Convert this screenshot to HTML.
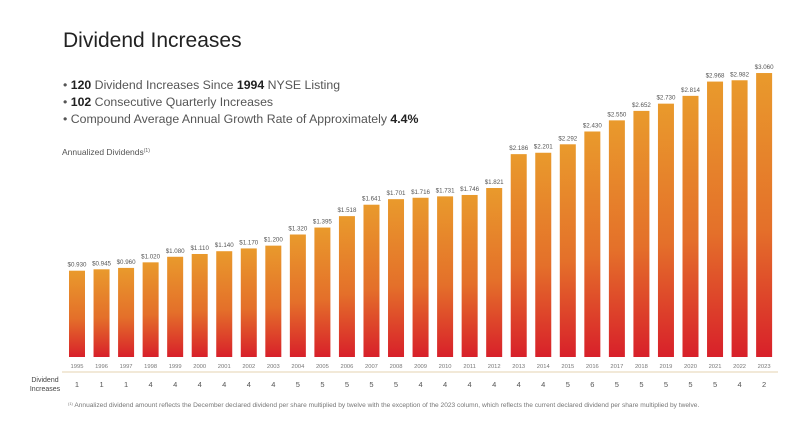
<!DOCTYPE html>
<html><head><meta charset="utf-8"><style>
body{margin:0;background:#fff;width:800px;height:423px;overflow:hidden;font-family:"Liberation Sans",sans-serif}
svg{display:block}
</style></head><body>
<svg width="800" height="423" xmlns="http://www.w3.org/2000/svg">
<defs><linearGradient id="g" x1="0" y1="0" x2="0" y2="1"><stop offset="0" stop-color="#e99a2c"/><stop offset="0.55" stop-color="#e4702a"/><stop offset="1" stop-color="#d8202a"/></linearGradient></defs>
<text x="63" y="47" font-size="21" fill="#222">Dividend Increases</text>
<g font-size="12.3" fill="#555">
<text x="63" y="89">• <tspan font-weight="bold" fill="#222">120</tspan> Dividend Increases Since <tspan font-weight="bold" fill="#222">1994</tspan> NYSE Listing</text>
<text x="63" y="106">• <tspan font-weight="bold" fill="#222">102</tspan> Consecutive Quarterly Increases</text>
<text x="63" y="123">• Compound Average Annual Growth Rate of Approximately <tspan font-weight="bold" fill="#222">4.4%</tspan></text>
</g>
<text x="62" y="155" font-size="8.5" fill="#555">Annualized Dividends<tspan font-size="5" dy="-3">(1)</tspan></text>
<g id="bars"></g>
<line x1="62" x2="778" y1="372" y2="372" stroke="#e6d3b0" stroke-width="1"/>
<text x="45" y="382" font-size="7" fill="#444" text-anchor="middle"><tspan x="45">Dividend</tspan><tspan x="45" dy="9">Increases</tspan></text>
<text x="68" y="407" font-size="6.6" fill="#777"><tspan font-size="4" dy="-2">(1)</tspan><tspan dy="2"> Annualized dividend amount reflects the December declared dividend per share multiplied by twelve with the exception of the 2023 column, which reflects the current declared dividend per share multiplied by twelve.</tspan></text>
</svg>
<script>
const years=[1995,1996,1997,1998,1999,2000,2001,2002,2003,2004,2005,2006,2007,2008,2009,2010,2011,2012,2013,2014,2015,2016,2017,2018,2019,2020,2021,2022,2023];
const values=[0.930,0.945,0.960,1.020,1.080,1.110,1.140,1.170,1.200,1.320,1.395,1.518,1.641,1.701,1.716,1.731,1.746,1.821,2.186,2.201,2.292,2.430,2.550,2.652,2.730,2.814,2.968,2.982,3.060];
const increases=[1,1,1,4,4,4,4,4,4,5,5,5,5,5,4,4,4,4,4,4,5,6,5,5,5,5,5,4,2];
const NS="http://www.w3.org/2000/svg";
const g=document.getElementById('bars');
const x0=69,pitch=24.54,bw=16,base=357,scale=92.8;
const xs=i=>x0+i*pitch;
const ys=v=>base-v*scale;
years.forEach((yr,i)=>{
 const r=document.createElementNS(NS,'rect');
 r.setAttribute('x',xs(i));r.setAttribute('y',ys(values[i]));r.setAttribute('width',bw);r.setAttribute('height',base-ys(values[i]));r.setAttribute('fill','url(#g)');
 
 
 g.appendChild(r);
 const t=document.createElementNS(NS,'text');
 t.setAttribute('x',xs(i)+bw/2);t.setAttribute('y',ys(values[i])-4);t.setAttribute('font-size','6.2');t.setAttribute('fill','#555');t.setAttribute('text-anchor','middle');
 t.textContent='$'+values[i].toFixed(3);
 
 
 g.appendChild(t);
 const y=document.createElementNS(NS,'text');
 y.setAttribute('x',xs(i)+bw/2);y.setAttribute('y',368);y.setAttribute('font-size','5.8');y.setAttribute('fill','#777');y.setAttribute('text-anchor','middle');
 y.textContent=yr;
 
 
 g.appendChild(y);
 const n=document.createElementNS(NS,'text');
 n.setAttribute('x',xs(i)+bw/2);n.setAttribute('y',387);n.setAttribute('font-size','7.5');n.setAttribute('fill','#555');n.setAttribute('text-anchor','middle');
 n.textContent=increases[i];
 
 
 g.appendChild(n);
});
</script>
</body></html>
